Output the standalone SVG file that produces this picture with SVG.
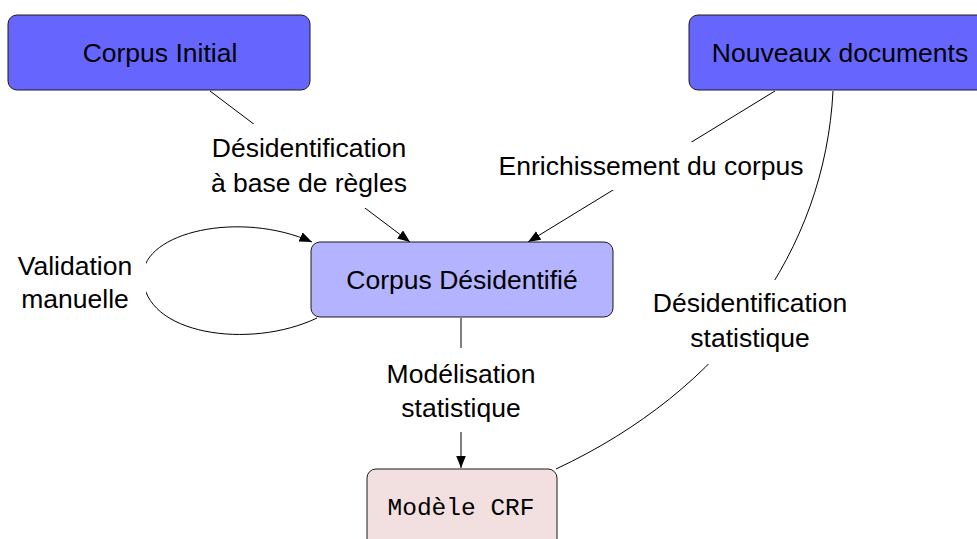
<svg xmlns="http://www.w3.org/2000/svg" width="977" height="539" viewBox="0 0 977 539">
<style>
.box{stroke:#1a1a1a;stroke-width:1}
.t{font-family:"Liberation Sans",Arial,sans-serif;font-size:26.5px;fill:#000;text-anchor:middle}
.m{font-family:"Liberation Mono","Courier New",monospace;font-size:24.5px;fill:#000;text-anchor:middle}
.e{fill:none;stroke:#000;stroke-width:1}
.bg{fill:#fff;stroke:none}
</style>
<defs>
<marker id="ah" markerUnits="userSpaceOnUse" markerWidth="14" markerHeight="12" refX="12.5" refY="5" orient="auto">
<path d="M0,0 L12.5,5 L0,10 z" fill="#000"/>
</marker>
</defs>
<rect width="977" height="539" fill="#fff"/>
<g id="connectors">
<path class="e" d="M210 91 L410 242" marker-end="url(#ah)"/>
<path class="e" d="M775 91 L528 242" marker-end="url(#ah)"/>
<path class="e" d="M833 91 C825 250 725 390 556 469"/>
<path class="e" d="M461 318 L461 468" marker-end="url(#ah)"/>
<path class="e" d="M317 318 C250 350 143 335 143 276 C143 232 240 210 312 242" marker-end="url(#ah)"/>
</g>
<g id="label-regles">
<rect class="bg" x="205" y="124" width="210" height="84"/>
<text class="t" x="309" y="157">Désidentification</text>
<text class="t" x="309" y="192">à base de règles</text>
</g>
<g id="label-enrichissement">
<rect class="bg" x="495" y="142" width="313" height="48"/>
<text class="t" x="651" y="175">Enrichissement du corpus</text>
</g>
<g id="label-statistique">
<rect class="bg" x="645" y="280" width="210" height="84"/>
<text class="t" x="750" y="312">Désidentification</text>
<text class="t" x="750" y="347">statistique</text>
</g>
<g id="label-modelisation">
<rect class="bg" x="380" y="348" width="162" height="84"/>
<text class="t" x="461" y="383">Modélisation</text>
<text class="t" x="461" y="417">statistique</text>
</g>
<g id="label-validation">
<rect class="bg" x="8" y="245" width="138" height="75"/>
<text class="t" x="75" y="275">Validation</text>
<text class="t" x="75" y="308">manuelle</text>
</g>
<g id="corpus-initial">
<rect class="box" x="8" y="15" width="302" height="75" rx="9" fill="#6666ff"/>
<text class="t" x="160" y="62">Corpus Initial</text>
</g>
<g id="nouveaux-documents">
<rect class="box" x="689" y="15" width="310" height="75" rx="9" fill="#6666ff"/>
<text class="t" x="840" y="62">Nouveaux documents</text>
</g>
<g id="corpus-desidentifie">
<rect class="box" x="311" y="242" width="302" height="75" rx="9" fill="#b3b3ff"/>
<text class="t" x="462" y="289">Corpus Désidentifié</text>
</g>
<g id="modele-crf">
<rect class="box" x="367" y="469" width="190" height="80" rx="9" fill="#f2dfdf"/>
<text class="m" x="461" y="515">Modèle CRF</text>
</g>
</svg>
